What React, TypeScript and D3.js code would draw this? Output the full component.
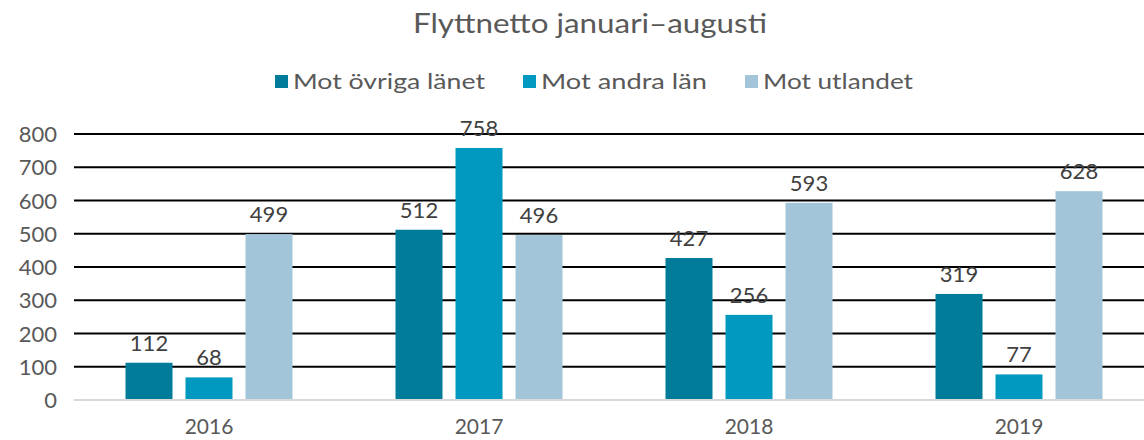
import React from "react";
import * as d3 from "d3";

const years = ["2016", "2017", "2018", "2019"];
const seriesNames = ["Mot övriga länet", "Mot andra län", "Mot utlandet"];
const ovrigaLanet = [112, 512, 427, 319];
const andraLan = [68, 758, 256, 77];
const utlandet = [499, 496, 593, 628];
const yTicks = [0, 100, 200, 300, 400, 500, 600, 700, 800];
const title = "Flyttnetto januari–augusti";

const colors = ["#017B9A", "#0199BF", "#A2C5DA"];
const font = "Lato, 'Open Sans', sans-serif";
const textColor = "#595959";

export default function App() {
  const W = 1144, H = 440;
  const left = 74, right = 1154, top = 134, bottom = 400;
  const seriesValues = [ovrigaLanet, andraLan, utlandet];

  const x = d3.scaleBand<string>().domain(years).range([left, right]).paddingInner(0).paddingOuter(0);
  const y = d3.scaleLinear().domain([0, 800]).range([bottom, top]);
  const barW = 47, gap = 13;
  const inner = d3.scaleBand<number>().domain([0, 1, 2]).range([0, 3 * barW + 2 * gap]).paddingInner(gap / (barW + gap));
  const groupW = 3 * barW + 2 * gap;

  const legendX = [275, 523, 745];
  const legendW = [192, 166, 150];

  return (
    <svg width={W} height={H} style={{ position: "absolute", left: 0, top: 0 }} fontFamily={font}>
      <rect width={W} height={H} fill="#fff" />
      <text x={590} y={33} textAnchor="middle" fontSize={26} fill={textColor} textLength={354} lengthAdjust="spacingAndGlyphs">{title}</text>
      {seriesNames.map((n, i) => (
        <g key={n}>
          <rect x={legendX[i]} y={75} width={13} height={13} fill={colors[i]} />
          <text x={legendX[i] + 18} y={89} fontSize={22} fill={textColor} textLength={legendW[i]} lengthAdjust="spacingAndGlyphs">{n}</text>
        </g>
      ))}
      {yTicks.map((t) => (
        <g key={t}>
          {t > 0 && <line x1={left} x2={W} y1={y(t)} y2={y(t)} stroke="#000" strokeWidth={2} />}
          <text x={57} y={y(t) + 8} textAnchor="end" fontSize={22} fill={textColor}>{t}</text>
        </g>
      ))}
      {years.map((yr, j) => {
        const gx = (x(yr) as number) + x.bandwidth() / 2 - groupW / 2;
        return (
          <g key={yr}>
            {seriesValues.map((vals, i) => {
              const bx = gx + (inner(i) as number);
              const v = vals[j];
              return (
                <g key={i}>
                  <rect x={bx} y={y(v)} width={inner.bandwidth()} height={bottom - y(v)} fill={colors[i]} />
                  <text x={bx + inner.bandwidth() / 2} y={y(v) - 12} textAnchor="middle" fontSize={22} fill="#404040">{v}</text>
                </g>
              );
            })}
            <text x={(x(yr) as number) + x.bandwidth() / 2} y={434} textAnchor="middle" fontSize={21} fill={textColor}>{yr}</text>
          </g>
        );
      })}
      <line x1={left} x2={W} y1={bottom} y2={bottom} stroke="#D9D9D9" strokeWidth={2} />
    </svg>
  );
}
